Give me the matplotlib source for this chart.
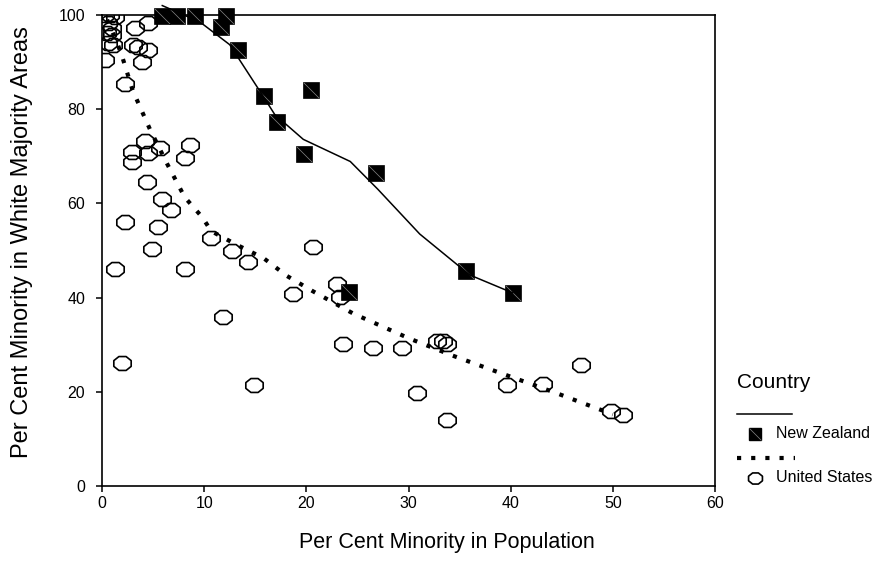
"""
Minority share in white-majority areas vs minority share in population
"""
import numpy as np
import matplotlib
matplotlib.use("Agg")
import matplotlib.pyplot as plt
from matplotlib.lines import Line2D
from matplotlib.path import Path

plt.rcParams['font.family'] = ['Liberation Sans', 'DejaVu Sans']

# New Zealand observations
nz_x = [5.9, 7.3, 9.1, 12.1, 11.6, 13.3, 15.9, 17.1, 20.5, 19.8, 26.8, 24.2, 35.6, 40.2]
nz_y = [99.8, 99.8, 99.8, 99.8, 97.5, 92.6, 82.7, 77.2, 84.0, 70.4, 66.4, 41.2, 45.7, 41.0]

# New Zealand fitted curve
nz_fit_x = [5.9, 9.6, 12.5, 15.7, 16.9, 19.7, 24.3, 27.0, 31.1, 36.0, 40.2]
nz_fit_y = [102.0, 98.5, 93.7, 83.0, 78.9, 73.6, 68.9, 63.0, 53.5, 44.8, 41.0]

# United States observations
us_x = [0.3, 0.8, 1.3, 0.6, 1.0, 0.5, 1.0, 0.6, 1.1, 0.3,
        3.2, 4.5, 3.0, 3.5, 4.5, 3.9, 2.3,
        4.2, 2.9, 4.5, 5.7, 2.9, 8.6, 8.1, 4.4, 5.9, 6.8,
        2.3, 5.5, 4.9, 1.3, 8.1, 11.8, 2.0, 14.9, 10.7, 12.7, 14.3,
        18.7, 20.7, 23.0, 23.3, 23.6, 26.5, 29.4, 30.8,
        32.8, 33.4, 33.8, 33.8, 39.6, 43.2, 46.9, 49.8, 51.0]
us_y = [100.0, 100.0, 99.6, 98.3, 97.3, 96.2, 95.8, 94.1, 93.7, 90.5,
        97.3, 98.3, 93.7, 93.2, 92.6, 90.1, 85.4,
        73.2, 71.0, 70.8, 71.7, 68.7, 72.5, 69.6, 64.5, 60.9, 58.6,
        56.0, 55.0, 50.3, 46.1, 46.1, 35.9, 26.2, 21.4, 52.6, 49.9, 47.6,
        40.8, 50.7, 42.9, 40.2, 30.2, 29.2, 29.2, 19.7,
        30.7, 30.7, 30.2, 14.0, 21.4, 21.6, 25.6, 15.9, 15.0]

# United States fitted curve
us_fit_x = [0.5, 1.5, 2.0, 3.0, 4.7, 6.4, 8.1, 9.8, 10.7, 13.2, 15.8, 18.1,
            20.6, 24.6, 30.1, 34.3, 38.6, 44.5, 50.0]
us_fit_y = [99.0, 94.0, 91.0, 84.0, 75.7, 68.3, 61.3, 57.1, 54.1, 51.2, 48.4,
            44.6, 41.4, 36.6, 31.3, 27.7, 24.3, 19.7, 15.2]

x_ticks = [0, 10, 20, 30, 40, 50, 60]
y_ticks = [0, 20, 40, 60, 80, 100]

# wide closed octagon like the original symbol
ang = np.deg2rad(22.5 + 45 * np.arange(9))
octagon = Path(np.column_stack([np.cos(ang), 0.8 * np.sin(ang)]), closed=True)
diag = [(-1, 1), (1, -1)]

fig = plt.figure(figsize=(8.82, 5.74), dpi=100)
ax = fig.add_axes([102 / 882, 1 - 486 / 574, 613 / 882, 471 / 574])

ax.plot(us_x, us_y, linestyle='none', marker=octagon, markersize=12.5,
        mfc='none', mec='black', mew=1.2, zorder=2)
ax.plot(nz_x, nz_y, linestyle='none', marker='s', markersize=11.5,
        mfc='black', mec='black', mew=0.5, zorder=3, clip_on=False)
ax.plot(nz_x, nz_y, linestyle='none', marker=diag, markersize=11,
        mfc='none', mec='#888888', mew=0.5, zorder=3.5, clip_on=False)

ax.plot(nz_fit_x, nz_fit_y, color='black', lw=1.1, zorder=4, clip_on=False)
ax.plot(us_fit_x, us_fit_y, color='black', lw=3, linestyle=(0, (1, 2.4)),
        dash_capstyle='butt', zorder=4)

ax.set_xlim(0, 60)
ax.set_ylim(0, 100)
ax.set_xticks(x_ticks)
ax.set_yticks(y_ticks)
ax.tick_params(labelsize=11.5, direction='out', length=4, width=1.1)
ax.tick_params(axis='y', pad=8)
ax.tick_params(axis='x', pad=3)
for sp in ax.spines.values():
    sp.set_linewidth(1.2)

ax.set_xlabel('Per Cent Minority in Population', fontsize=15.5)
ax.xaxis.set_label_coords(0.563, -0.098)
ax.set_ylabel('Per Cent Minority in White Majority Areas', fontsize=17)
ax.yaxis.set_label_coords(-0.113, 0.518)

# legend drawn beside the plot
tf = fig.transFigure
fig.text(737 / 882, 1 - 383 / 574, 'Country', fontsize=15, va='center', ha='left')
fig.add_artist(Line2D([737 / 882, 792 / 882], [1 - 414 / 574] * 2, color='black',
                      lw=1.1, transform=tf))
fig.add_artist(Line2D([755 / 882], [1 - 434 / 574], marker='s', markersize=9,
                      mfc='black', mec='black', transform=tf))
fig.add_artist(Line2D([755 / 882], [1 - 434 / 574], marker=diag, markersize=8.5,
                      mfc='none', mec='#888888', mew=0.5, transform=tf))
fig.text(776 / 882, 1 - 434 / 574, 'New Zealand', fontsize=11.5, va='center', ha='left')
fig.add_artist(Line2D([737 / 882, 795 / 882], [1 - 458 / 574] * 2, color='black',
                      lw=3, linestyle=(0, (1, 2.4)), dash_capstyle='butt', transform=tf))
fig.add_artist(Line2D([755 / 882], [1 - 478 / 574], marker=octagon, markersize=10,
                      mfc='none', mec='black', mew=1.2, transform=tf))
fig.text(776 / 882, 1 - 478 / 574, 'United States', fontsize=11.5, va='center', ha='left')

fig.savefig('out.png', dpi=100)
